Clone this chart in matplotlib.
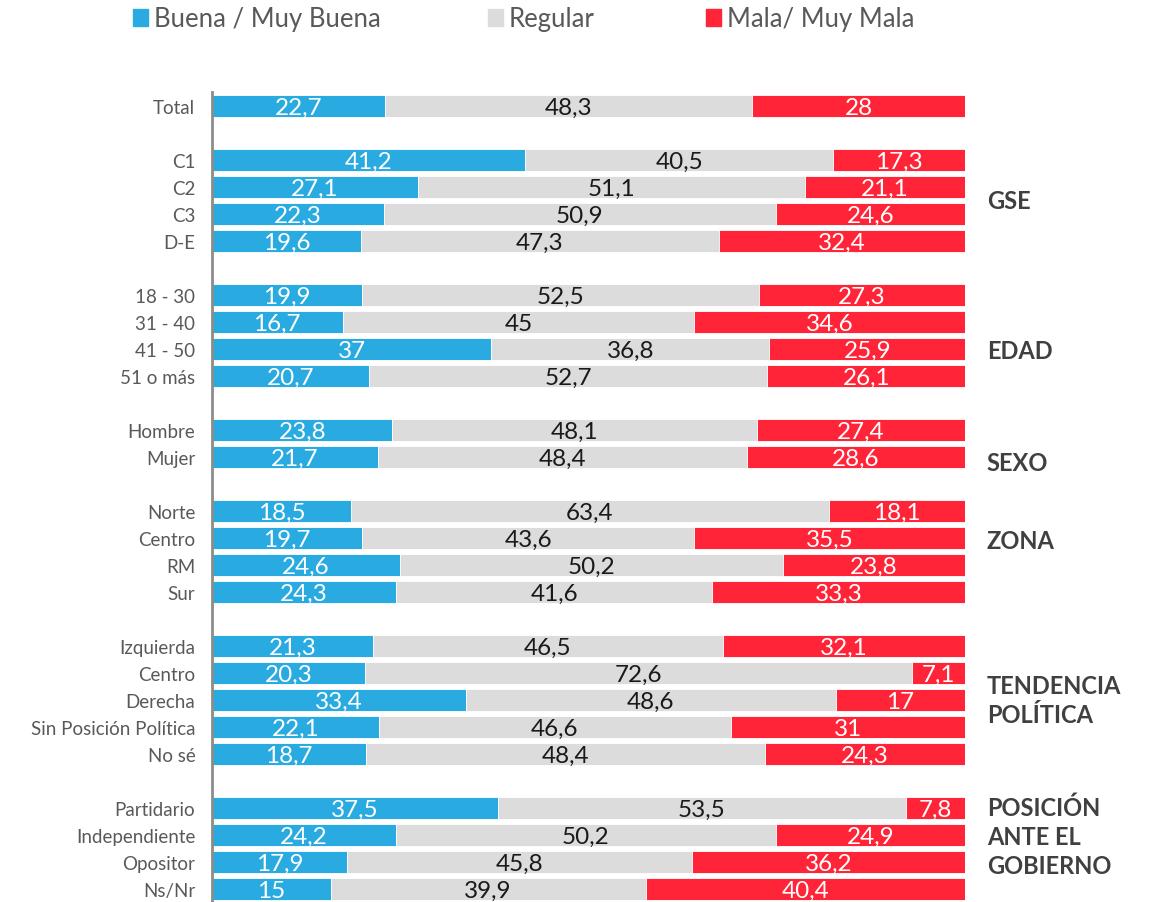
import matplotlib
matplotlib.use("Agg")
import matplotlib.pyplot as plt
from matplotlib.patches import Rectangle
import numpy as np

# data
categories = ["Total",
              "C1", "C2", "C3", "D-E",
              "18 - 30", "31 - 40", "41 - 50", "51 o más",
              "Hombre", "Mujer",
              "Norte", "Centro", "RM", "Sur",
              "Izquierda", "Centro", "Derecha", "Sin Posición Política", "No sé",
              "Partidario", "Independiente", "Opositor", "Ns/Nr"]
group_sizes = [1, 4, 4, 2, 4, 5, 4]
group_names = ["", "GSE", "EDAD", "SEXO", "ZONA", "TENDENCIA\nPOLÍTICA", "POSICIÓN\nANTE EL\nGOBIERNO"]

buena = [22.7, 41.2, 27.1, 22.3, 19.6, 19.9, 16.7, 37, 20.7, 23.8, 21.7,
         18.5, 19.7, 24.6, 24.3, 21.3, 20.3, 33.4, 22.1, 18.7, 37.5, 24.2, 17.9, 15]
regular = [48.3, 40.5, 51.1, 50.9, 47.3, 52.5, 45, 36.8, 52.7, 48.1, 48.4,
           63.4, 43.6, 50.2, 41.6, 46.5, 72.6, 48.6, 46.6, 48.4, 53.5, 50.2, 45.8, 39.9]
mala = [28, 17.3, 21.1, 24.6, 32.4, 27.3, 34.6, 25.9, 26.1, 27.4, 28.6,
        18.1, 35.5, 23.8, 33.3, 32.1, 7.1, 17, 31, 24.3, 7.8, 24.9, 36.2, 40.4]
series_names = ["Buena / Muy Buena", "Regular", "Mala/ Muy Mala"]

colors = ["#29ABE2", "#DCDCDC", "#FF2437"]
text_colors = ["white", "#1a1a1a", "white"]
FONT = "Lato"

# row positions: one blank slot between groups
ypos = []
slot = 0
group_centers = []
for g in group_sizes:
    group_centers.append(slot + (g - 1) / 2)
    ypos.extend(range(slot, slot + g))
    slot += g + 1
ypos = np.array(ypos)

vals = np.array([buena, regular, mala], dtype=float)
pct = vals / vals.sum(axis=0) * 100  # 100% stacked like Excel

fig = plt.figure(figsize=(11.57, 9.03), dpi=100)
ax = fig.add_axes([212 / 1157, 0, (965 - 212) / 1157, 1 - 93 / 903])

left = np.zeros(len(categories))
for i in range(3):
    ax.barh(ypos, pct[i], left=left, height=0.82, color=colors[i],
            edgecolor="white", linewidth=0.6)
    for y, l, w, v in zip(ypos, left, pct[i], vals[i]):
        ax.text(l + w / 2, y + 0.04, f"{v:g}".replace(".", ","), ha="center", va="center",
                fontsize=17.5, color=text_colors[i], family=FONT)
    left += pct[i]

ax.set_xlim(0, 100)
ax.set_ylim(29.48, -0.52)
ax.set_yticks(ypos)
ax.set_yticklabels(categories, fontsize=13.5, color="#595959", family=FONT)
ax.tick_params(axis="y", length=0, pad=12)
ax.set_xticks([])
for s in ["top", "right", "bottom"]:
    ax.spines[s].set_visible(False)
ax.spines["left"].set_color("#8c8c8c")
ax.spines["left"].set_linewidth(2)

# group labels on the right
offsets = [0, 0, 0.55, 0.7, -0.4, 0, -0.45]
for name, c, o in zip(group_names, group_centers, offsets):
    if name:
        ax.text(1.029, c + o, name, transform=ax.get_yaxis_transform(), ha="left", va="center",
                fontsize=17, fontweight="bold", color="#404040", family=FONT, linespacing=1.3)

# legend across the top
legend_x = [133, 488, 706]
for name, col, x in zip(series_names, colors, legend_x):
    fig.patches.append(Rectangle((x / 1157, 1 - 27 / 903), 15 / 1157, 17 / 903,
                                 transform=fig.transFigure, color=col))
    fig.text((x + 21) / 1157, 1 - 19 / 903, name, ha="left", va="center",
             fontsize=18.5, color="#595959", family=FONT)

fig.savefig("out.png", dpi=100)
